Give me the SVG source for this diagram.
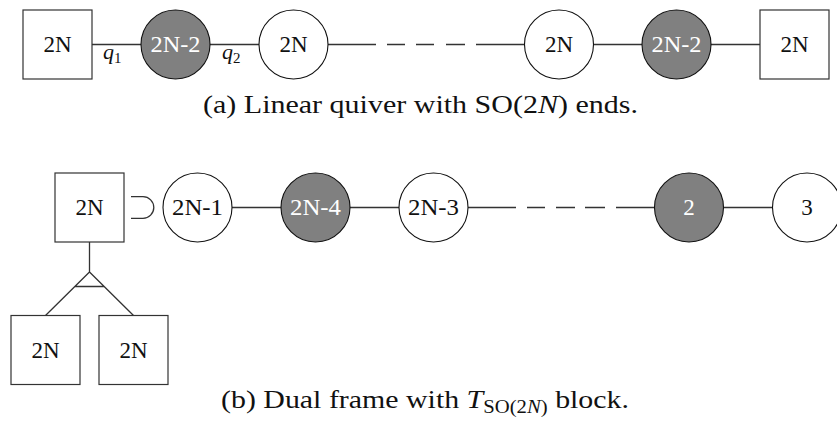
<svg xmlns="http://www.w3.org/2000/svg" width="837" height="432" viewBox="0 0 837 432">
<style>
.sq{fill:#fff;stroke:#333;stroke-width:1.2}
.wc{fill:#fff;stroke:#111;stroke-width:1.1}
.gc{fill:#808080;stroke:#111;stroke-width:1.1}
.ln{fill:none;stroke:#333;stroke-width:1.3}
.lb{font-family:"Liberation Serif",serif;font-size:23px;fill:#111;text-anchor:middle;dominant-baseline:central}
.lw{font-family:"Liberation Serif",serif;font-size:23px;fill:#fff;text-anchor:middle;dominant-baseline:central}
.cap{font-family:"Liberation Serif",serif;font-size:26px;fill:#111;text-anchor:middle}
.q{font-family:"Liberation Serif",serif;font-size:22px;font-style:italic;fill:#111}
</style>
<rect width="837" height="432" fill="#fff"/>
<g id="connectors">
<path class="ln" d="M92,44.5H141 M210,44.5H259 M328,44.5H376 M387,44.5H405 M416,44.5H434 M446,44.5H465 M476,44.5H524.5 M593.5,44.5H642 M711,44.5H760"/>
<path class="ln" d="M232,207.5H281 M350,207.5H399 M468,207.5H516 M527,207.5H545 M556,207.5H575 M585,207.5H605 M616,207.5H654.5 M723.5,207.5H772.5"/>
<path class="ln" d="M131,196.7H143A10.8,10.8 0 0 1 143,218.3H131"/>
<path class="ln" d="M89.5,242V272 M89.5,272L45.5,315.5 M89.5,272L133.5,315.5 M74.8,286.5H104.2"/>
</g>
<g id="q1"><text class="q" x="103" y="59">q<tspan font-size="15" font-style="normal" dy="4">1</tspan></text></g>
<g id="q2"><text class="q" x="222" y="59">q<tspan font-size="15" font-style="normal" dy="4">2</tspan></text></g>
<g id="a1"><rect class="sq" x="23" y="10" width="69" height="69"/><text class="lb" x="57.5" y="44.5">2N</text></g>
<g id="a2"><circle class="gc" cx="175.5" cy="44.5" r="34.5"/><text class="lw" x="175.5" y="44.5" textLength="50" lengthAdjust="spacingAndGlyphs">2N-2</text></g>
<g id="a3"><circle class="wc" cx="293.5" cy="44.5" r="34.5"/><text class="lb" x="293.5" y="44.5">2N</text></g>
<g id="a4"><circle class="wc" cx="559" cy="44.5" r="34.5"/><text class="lb" x="559" y="44.5">2N</text></g>
<g id="a5"><circle class="gc" cx="676.5" cy="44.5" r="34.5"/><text class="lw" x="676.5" y="44.5" textLength="50" lengthAdjust="spacingAndGlyphs">2N-2</text></g>
<g id="a6"><rect class="sq" x="760" y="10" width="69" height="69"/><text class="lb" x="794.5" y="44.5">2N</text></g>
<g id="capA"><text class="cap" x="420.5" y="113" textLength="435" lengthAdjust="spacingAndGlyphs">(a) Linear quiver with SO(2<tspan font-style="italic">N</tspan>) ends.</text></g>
<g id="b1"><rect class="sq" x="55" y="173" width="69" height="69"/><text class="lb" x="89.5" y="207.5">2N</text></g>
<g id="b2"><circle class="wc" cx="197.5" cy="207.5" r="34.5"/><text class="lb" x="197.5" y="207.5" textLength="51" lengthAdjust="spacingAndGlyphs">2N-1</text></g>
<g id="b3"><circle class="gc" cx="315.5" cy="207.5" r="34.5"/><text class="lw" x="315.5" y="207.5" textLength="51" lengthAdjust="spacingAndGlyphs">2N-4</text></g>
<g id="b4"><circle class="wc" cx="433.5" cy="207.5" r="34.5"/><text class="lb" x="433.5" y="207.5" textLength="51" lengthAdjust="spacingAndGlyphs">2N-3</text></g>
<g id="b5"><circle class="gc" cx="689" cy="207.5" r="34.5"/><text class="lw" x="689" y="207.5">2</text></g>
<g id="b6"><circle class="wc" cx="807" cy="207.5" r="34.5"/><text class="lb" x="807" y="207.5">3</text></g>
<g id="b7"><rect class="sq" x="11" y="315.5" width="69" height="69"/><text class="lb" x="45.5" y="350">2N</text></g>
<g id="b8"><rect class="sq" x="99" y="315.5" width="69" height="69"/><text class="lb" x="133.5" y="350">2N</text></g>
<g id="capB"><text class="cap" x="425" y="408" textLength="408" lengthAdjust="spacingAndGlyphs">(b) Dual frame with <tspan font-style="italic">T</tspan><tspan font-size="18" dy="5">SO(2<tspan font-style="italic">N</tspan>)</tspan><tspan dy="-5"> block.</tspan></text></g>
</svg>
